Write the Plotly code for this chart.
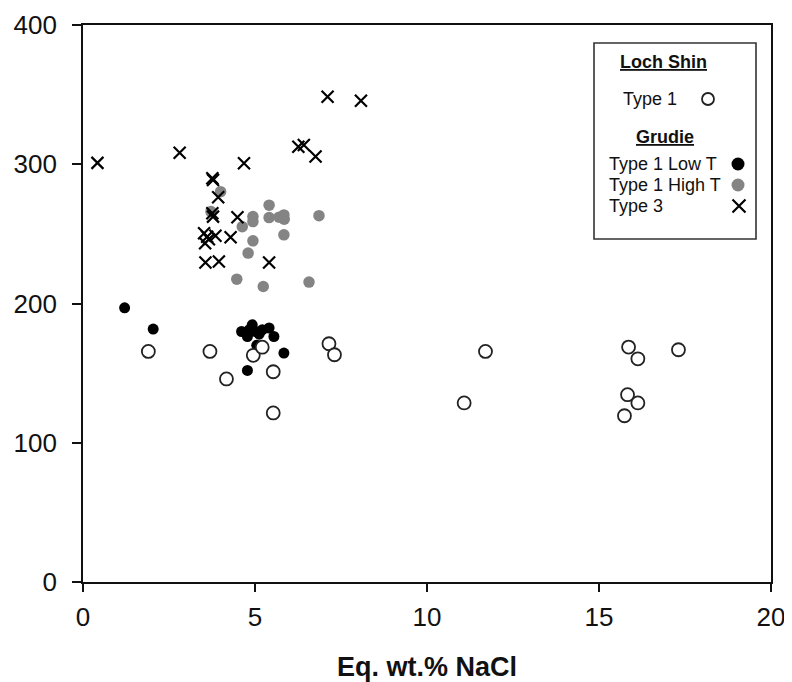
import plotly.graph_objects as go

# ---- Data ----
loch_shin_t1_x = [1.90, 3.69, 4.17, 4.95, 5.21, 5.53, 5.53, 7.15, 7.31, 11.70, 11.08,
                  15.86, 16.13, 17.31, 15.83, 16.13, 15.74]
loch_shin_t1_y = [165.6, 165.6, 145.8, 162.8, 168.6, 151.0, 121.4, 171.1, 163.2, 165.6, 128.6,
                  168.7, 160.3, 166.8, 134.5, 128.6, 119.4]

grudie_low_x = [1.21, 2.04, 4.61, 4.78, 4.92, 4.83, 5.02, 5.21, 5.41, 5.55, 5.84, 4.78, 5.05, 5.12]
grudie_low_y = [196.9, 181.6, 179.9, 176.3, 184.7, 181.1, 179.9, 181.1, 182.4, 176.3, 164.4, 151.9, 170.0, 178.0]

grudie_high_x = [4.00, 3.72, 5.41, 4.94, 4.94, 5.41, 5.70, 5.84, 5.85, 6.86, 4.63, 5.84, 4.94,
                 4.80, 4.47, 5.24, 6.57]
grudie_high_y = [280.3, 266.0, 270.6, 262.4, 258.8, 261.7, 262.0, 263.6, 260.5, 263.1, 255.2,
                 249.3, 245.0, 236.2, 217.5, 212.2, 215.4]

grudie_t3_x = [0.42, 2.81, 7.11, 8.08, 4.68, 6.26, 6.42, 6.76, 3.76, 3.78, 3.93, 3.76, 3.78,
               4.49, 3.52, 3.61, 3.66, 3.55, 3.85, 4.29, 3.56, 3.95, 5.41]
grudie_t3_y = [301.0, 308.3, 348.5, 345.6, 300.7, 312.6, 313.8, 305.5, 290.0, 288.7, 276.3, 264.8,
               262.4, 262.0, 250.5, 248.0, 246.2, 243.3, 248.6, 247.6, 229.4, 230.1, 229.4]

x_ticks = [0, 5, 10, 15, 20]
y_ticks = [0, 100, 200, 300, 400]
x_title = "Eq. wt.% NaCl"

legend_labels = ["Type 1", "Type 1 Low T", "Type 1 High T", "Type 3"]

# ---- Styles ----
FONT = "Liberation Sans, Arial, sans-serif"
open_style = dict(symbol="circle", size=13, color="white", line=dict(color="#222", width=1.8))
low_style = dict(symbol="circle", size=11, color="black", line=dict(width=0))
high_style = dict(symbol="circle", size=11.5, color="#848484", line=dict(width=0))
x_style = dict(symbol="x-thin", size=12, color="black", line=dict(color="black", width=2.2))

fig = go.Figure()
fig.add_trace(go.Scatter(x=grudie_high_x, y=grudie_high_y, mode="markers", marker=high_style,
                         name="Type 1 High T", showlegend=False))
fig.add_trace(go.Scatter(x=grudie_t3_x, y=grudie_t3_y, mode="markers", marker=x_style,
                         name="Type 3", showlegend=False))
fig.add_trace(go.Scatter(x=grudie_low_x, y=grudie_low_y, mode="markers", marker=low_style,
                         name="Type 1 Low T", showlegend=False))
fig.add_trace(go.Scatter(x=loch_shin_t1_x, y=loch_shin_t1_y, mode="markers", marker=open_style,
                         name="Type 1", showlegend=False))

# Page body has an 8px default margin; compensate so page coords match the reference.
OFF = 8
W, H = 792 - OFF, 682 - OFF
# plot area in page pixel coordinates
L, R, T, B = 83, 771, 25, 582

def px(xp):
    return (xp - L) / (R - L)
def py(yp):
    return (B - yp) / (B - T)

fig.add_shape(type="rect", xref="paper", yref="paper",
              x0=px(594), x1=px(756), y0=py(239), y1=py(43),
              line=dict(color="#333", width=1.6), fillcolor="white", layer="below")

ann = []
def text(s, xp, yp, anchor="left"):
    ann.append(dict(text=s, x=px(xp), y=py(yp), xref="paper", yref="paper",
                    xanchor=anchor, yanchor="middle", showarrow=False,
                    font=dict(family=FONT, size=18, color="#111")))

text("<b><u>Loch Shin</u></b>", 663, 62, anchor="center")
text(legend_labels[0], 621, 99)
text("<b><u>Grudie</u></b>", 665, 137, anchor="center")
text(legend_labels[1], 607, 164)
text(legend_labels[2], 607, 185)
text(legend_labels[3], 607, 206)

# legend symbols on an invisible overlay axis (0..1 = plot area)
sym_styles = [open_style, low_style, high_style, x_style]
sym_pos = [(708, 99), (738, 164), (738, 185), (739, 206)]
for st, (sx, sy) in zip(sym_styles, sym_pos):
    s = dict(st)
    s["size"] = 12 if st is open_style else 13
    fig.add_trace(go.Scatter(x=[px(sx)], y=[py(sy)], xaxis="x2", yaxis="y2", mode="markers",
                             marker=s, showlegend=False, hoverinfo="skip"))

axis_common = dict(showline=True, linecolor="#111", linewidth=1.6, mirror=True,
                   ticks="outside", tickcolor="#111", tickwidth=1.6,
                   showgrid=False, zeroline=False, automargin=False,
                   tickfont=dict(family=FONT, size=26, color="#111"))

fig.update_layout(
    width=W, height=H,
    margin=dict(l=L - OFF, r=W - (R - OFF), t=T - OFF, b=H - (B - OFF), pad=0),
    paper_bgcolor="white", plot_bgcolor="white",
    showlegend=False,
    xaxis=dict(range=[0, 20], tickvals=x_ticks, ticklen=8, ticklabelstandoff=3,
               title=dict(text="<b>" + x_title + "</b>", standoff=28,
                          font=dict(family=FONT, size=27, color="#111")),
               **axis_common),
    yaxis=dict(range=[0, 400], tickvals=y_ticks, ticklen=9, ticklabelstandoff=10,
               **axis_common),
    xaxis2=dict(overlaying="x", range=[0, 1], visible=False),
    yaxis2=dict(overlaying="y", range=[0, 1], visible=False),
    annotations=ann,
)

fig.write_html("out.html")
